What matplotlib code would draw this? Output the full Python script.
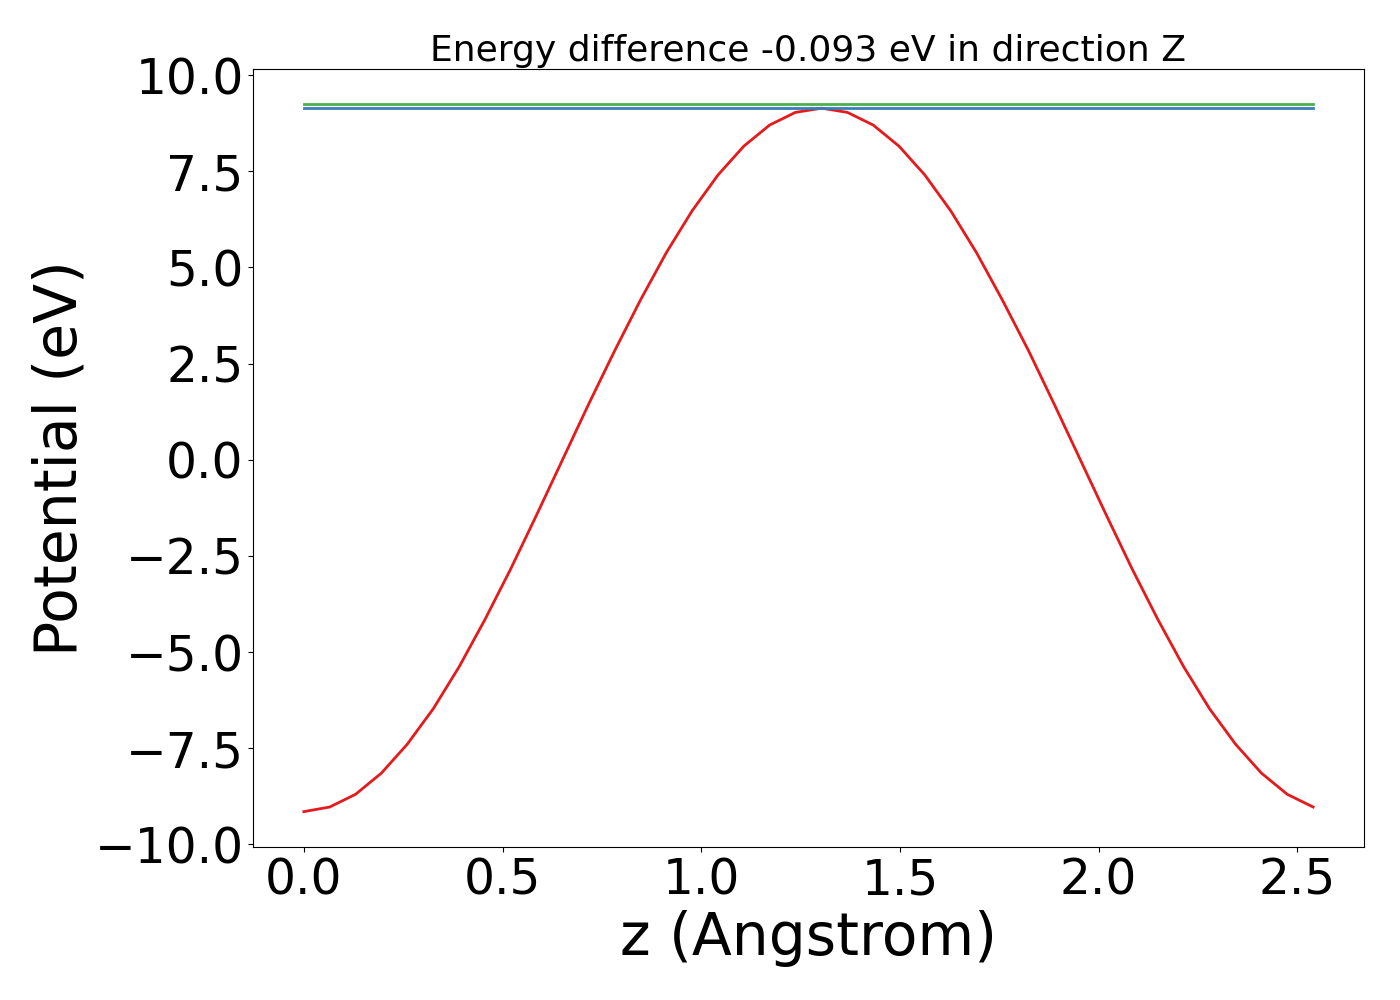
import numpy as np
import matplotlib
matplotlib.use("Agg")
import matplotlib.pyplot as plt
from matplotlib.ticker import MultipleLocator

# grid along z (Angstrom)
z = [0.000, 0.065, 0.130, 0.195, 0.260, 0.326, 0.391, 0.456, 0.521, 0.586,
     0.651, 0.716, 0.782, 0.847, 0.912, 0.977, 1.042, 1.107, 1.172, 1.237,
     1.303, 1.368, 1.433, 1.498, 1.563, 1.628, 1.693, 1.758, 1.824, 1.889,
     1.954, 2.019, 2.084, 2.149, 2.214, 2.279, 2.345, 2.410, 2.475, 2.540]

# planar averaged potential (eV)
potential = [-9.15, -9.03, -8.70, -8.15, -7.40, -6.47, -5.38, -4.15, -2.83, -1.43,
             0.00, 1.43, 2.83, 4.15, 5.38, 6.47, 7.40, 8.15, 8.70, 9.03,
             9.14, 9.03, 8.70, 8.15, 7.40, 6.47, 5.38, 4.15, 2.83, 1.43,
             0.00, -1.43, -2.83, -4.15, -5.38, -6.47, -7.40, -8.15, -8.70, -9.03]

level_blue = 9.146
level_green = 9.239
direction = "Z"

fig, ax = plt.subplots(figsize=(14, 10), dpi=100)
ax.plot(z, potential, color="#e41a1c", lw=2)
ax.plot([z[0], z[-1]], [level_blue, level_blue], color="#377eb8", lw=2)
ax.plot([z[0], z[-1]], [level_green, level_green], color="#4daf4a", lw=2)

ax.set_title("Energy difference %.3f eV in direction %s" % (level_blue - level_green, direction),
             fontsize=26)
ax.set_xlabel("z (Angstrom)", fontsize=42)
ax.set_ylabel("Potential (eV)", fontsize=42)
ax.yaxis.set_major_locator(MultipleLocator(2.5))
ax.tick_params(labelsize=35)

plt.subplots_adjust(left=0.181, right=0.974, bottom=0.153, top=0.931)
plt.savefig("out.png")
